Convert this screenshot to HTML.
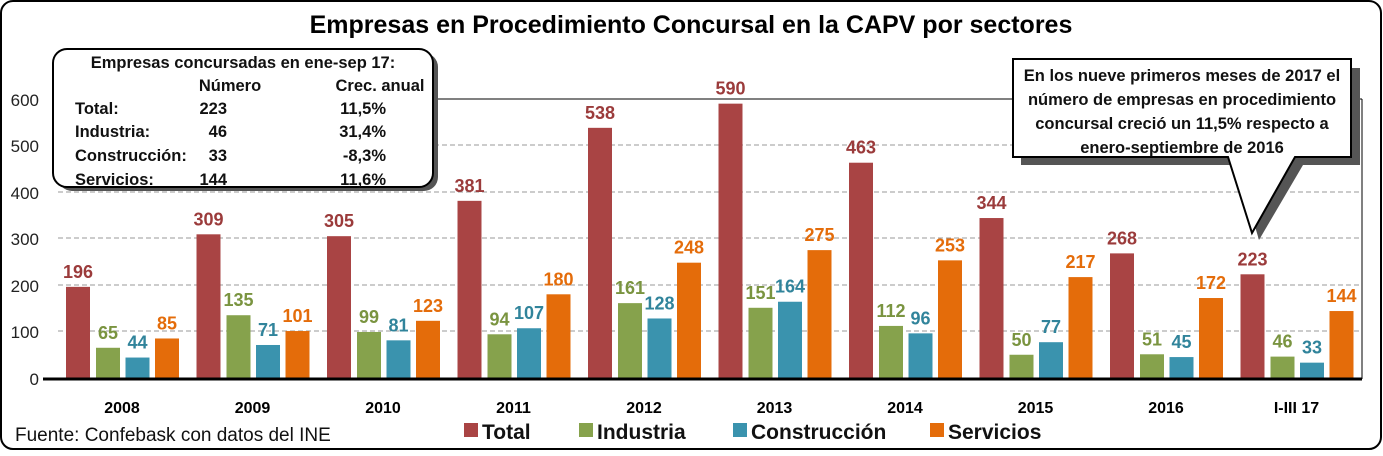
<!DOCTYPE html>
<html><head><meta charset="utf-8"><style>
body{margin:0;background:#fff}
svg text{font-family:"Liberation Sans",sans-serif}
</style></head><body>
<svg width="1383" height="451" xmlns="http://www.w3.org/2000/svg">
<rect x="1" y="1" width="1380" height="448" rx="12" fill="#fff" stroke="#000" stroke-width="2"/>
<text x="691" y="33" font-size="25" font-weight="bold" text-anchor="middle">Empresas en Procedimiento Concursal en la CAPV por sectores</text>
<g stroke="#999" stroke-dasharray="5,3" stroke-width="1">
<line x1="58" x2="1362" y1="145" y2="145"/><line x1="58" x2="1362" y1="192" y2="192"/>
<line x1="58" x2="1362" y1="238" y2="238"/><line x1="58" x2="1362" y1="285" y2="285"/>
<line x1="58" x2="1362" y1="331" y2="331"/>
</g>
<line x1="58" x2="1362" y1="99" y2="99" stroke="#000"/>
<line x1="1362" x2="1362" y1="99" y2="379" stroke="#000"/>
<g font-size="17" fill="#222" text-anchor="end">
<text x="39" y="106">600</text><text x="39" y="152">500</text><text x="39" y="199">400</text>
<text x="39" y="245">300</text><text x="39" y="292">200</text><text x="39" y="338">100</text><text x="39" y="385">0</text>
</g>
<g id="bars"></g>
<line x1="43" x2="1362" y1="379" y2="379" stroke="#000" stroke-width="3"/>
<g font-size="16" font-weight="bold" text-anchor="middle" id="cats"></g>
<text x="15" y="441" font-size="19" fill="#111">Fuente: Confebask con datos del INE</text>
<g font-size="21" font-weight="bold" fill="#111">
<rect x="464" y="423" width="14" height="14" fill="#A94444"/><text x="482" y="439">Total</text>
<rect x="579" y="423" width="14" height="14" fill="#86A24C"/><text x="597" y="439">Industria</text>
<rect x="733" y="423" width="14" height="14" fill="#3A93AE"/><text x="751" y="439">Construcción</text>
<rect x="930" y="423" width="14" height="14" fill="#E46C0A"/><text x="948" y="439">Servicios</text>
</g>
<rect x="58" y="53" width="380" height="138" rx="14" fill="#555"/>
<rect x="53" y="49" width="380" height="138" rx="14" fill="#fff" stroke="#000" stroke-width="2"/>
<g font-size="16.5" font-weight="bold" fill="#111">
<text x="243" y="68" text-anchor="middle">Empresas concursadas en ene-sep 17:</text>
<text x="230" y="91" text-anchor="middle">Número</text><text x="380" y="91" text-anchor="middle">Crec. anual</text>
<text x="75" y="114">Total:</text><text x="227" y="114" text-anchor="end">223</text><text x="386" y="114" text-anchor="end">11,5%</text>
<text x="75" y="137">Industria:</text><text x="227" y="137" text-anchor="end">46</text><text x="386" y="137" text-anchor="end">31,4%</text>
<text x="75" y="161">Construcción:</text><text x="227" y="161" text-anchor="end">33</text><text x="386" y="161" text-anchor="end">-8,3%</text>
<text x="75" y="185">Servicios:</text><text x="227" y="185" text-anchor="end">144</text><text x="386" y="185" text-anchor="end">11,6%</text>
</g>
<polygon points="1017,64 1356,64 1356,161 1299,161 1255,236 1233,161 1017,161" fill="#555" transform="translate(4,4)"/>
<polygon points="1013,59 1351,59 1351,157 1295,157 1252,233 1228,157 1013,157" fill="#fff" stroke="#000" stroke-width="2"/>
<g font-size="16.5" font-weight="bold" text-anchor="middle" fill="#111">
<text x="1182" y="81">En los nueve primeros meses de 2017 el</text>
<text x="1182" y="105">número de empresas en procedimiento</text>
<text x="1182" y="129">concursal creció un 11,5% respecto a</text>
<text x="1182" y="153">enero-septiembre de 2016</text>
</g>
</svg>
<script>
const d=[[196,65,44,85],[309,135,71,101],[305,99,81,123],[381,94,107,180],[538,161,128,248],[590,151,164,275],[463,112,96,253],[344,50,77,217],[268,51,45,172],[223,46,33,144]];
const cats=["2008","2009","2010","2011","2012","2013","2014","2015","2016","I-III 17"];
const col=["#A94444","#86A24C","#3A93AE","#E46C0A"],tcol=["#9B3B3B","#7A9440","#31849B","#E46C0A"];
const off=[0,30,59.5,89];const ns="http://www.w3.org/2000/svg";
const b=document.getElementById("bars"),c=document.getElementById("cats");
function el(t,a,p,txt){const e=document.createElementNS(ns,t);for(const k in a)e.setAttribute(k,a[k]);if(txt!=null)e.textContent=txt;p.appendChild(e);}
d.forEach((g,i)=>{const x0=66+i*130.5;g.forEach((v,j)=>{const h=v*0.465;const x=x0+off[j];
el("rect",{x:x,y:378-h,width:24,height:h,fill:col[j]},b);
el("text",{x:x+12,y:378-h-9,"font-size":18,"font-weight":"bold","text-anchor":"middle",fill:tcol[j]},b,v);});
el("text",{x:x0+56,y:413},c,cats[i]);});
</script>
</body></html>
